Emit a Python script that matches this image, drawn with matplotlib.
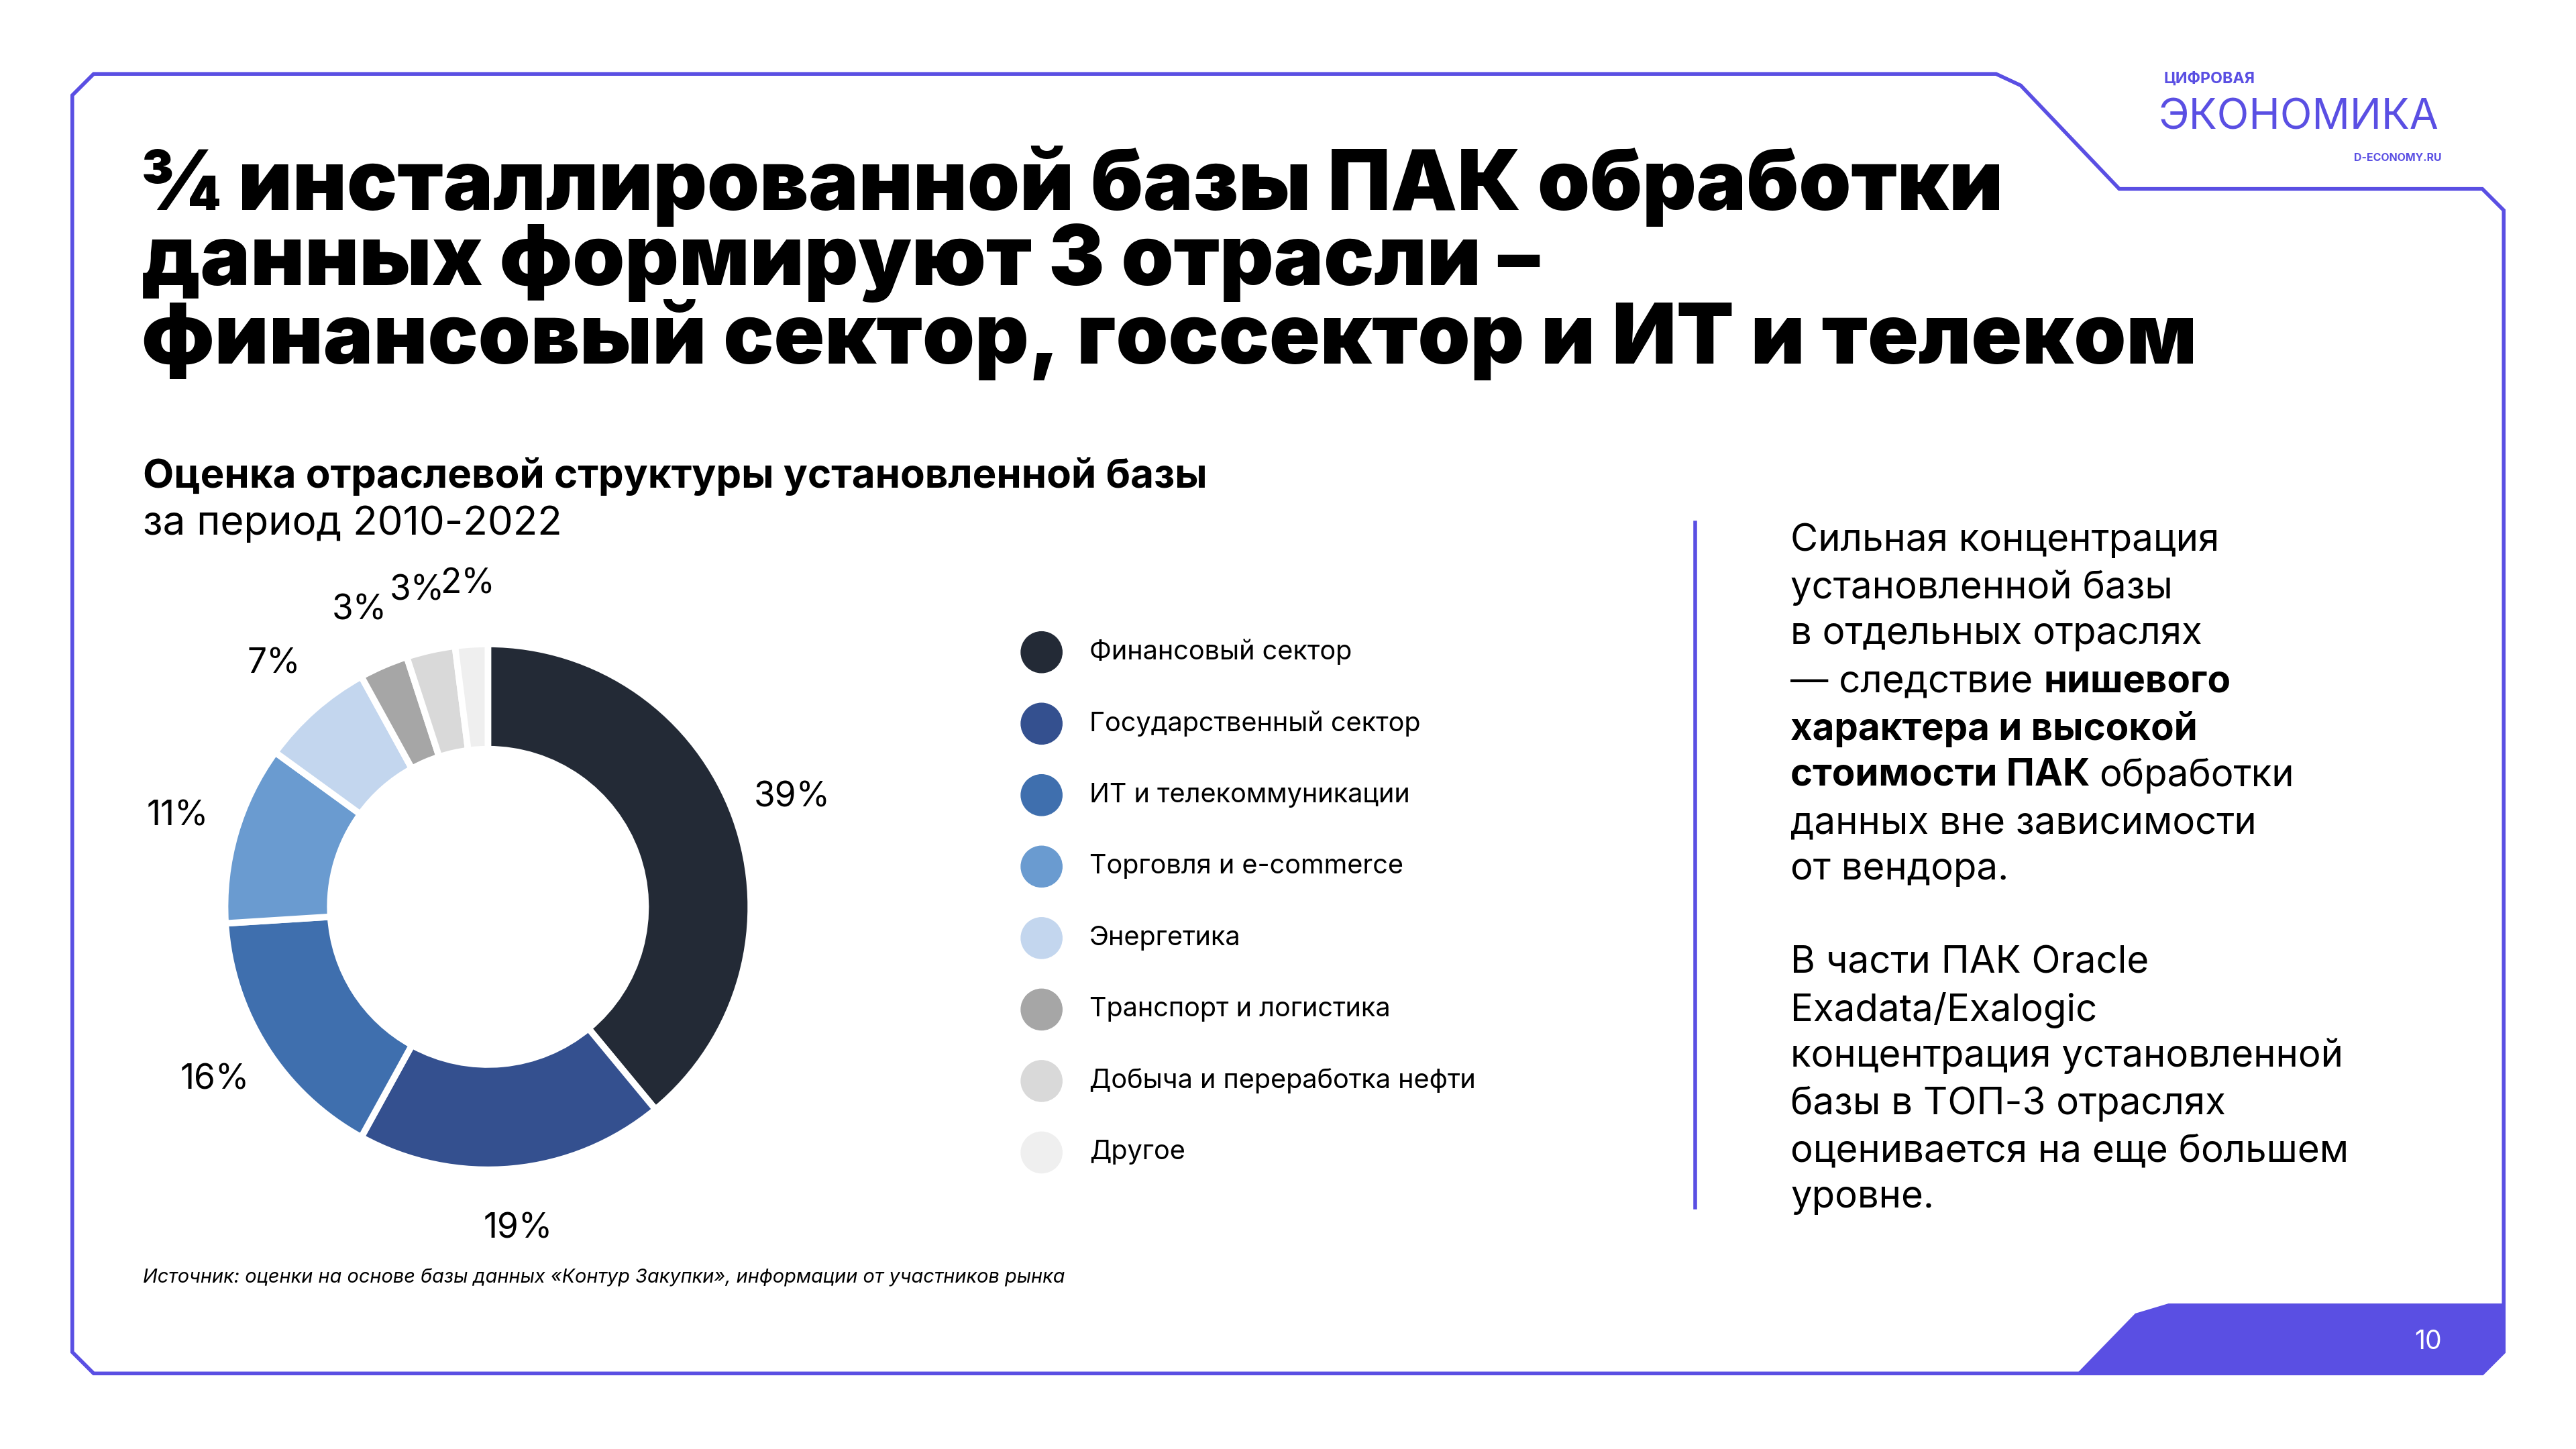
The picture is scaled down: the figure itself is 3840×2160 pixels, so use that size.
import matplotlib
matplotlib.use('Agg')
import matplotlib.pyplot as plt
from matplotlib.patches import Polygon, Circle

# Data
sectors = ['Финансовый сектор', 'Государственный сектор', 'ИТ и телекоммуникации',
           'Торговля и e-commerce', 'Энергетика', 'Транспорт и логистика',
           'Добыча и переработка нефти', 'Другое']
shares = [39, 19, 16, 11, 7, 3, 3, 2]
colors = ['#232a36', '#34508f', '#3f6fae', '#6a9bd0', '#c3d6ee', '#a6a6a6', '#d9d9d9', '#efefef']

ACCENT = '#5a4fe3'
W, H = 1568, 882
K = 1.763  # display px -> pt
plt.rcParams['font.family'] = ['Inter', 'DejaVu Sans']

fig = plt.figure(figsize=(38.4, 21.6), dpi=100)
bg = fig.add_axes([0, 0, 1, 1])
bg.set_xlim(0, W)
bg.set_ylim(H, 0)
bg.axis('off')

# Frame with notch top-right
frame = [(44, 58), (44, 823), (57, 836), (1511, 836), (1524, 823), (1524, 128),
         (1511, 115), (1290, 115), (1230, 52), (1215, 45), (57, 45)]
bg.add_patch(Polygon(frame, closed=True, fill=False, ec=ACCENT, lw=4))
bg.add_patch(Polygon([(1265, 836), (1300, 800), (1320, 794), (1524, 794), (1524, 823),
                      (1511, 836)], closed=True, fc=ACCENT, ec=ACCENT, lw=2))
bg.text(1478, 817, '10', color='white', fontsize=16 * K, ha='center', va='center')
bg.plot([1032, 1032], [318, 735], color=ACCENT, lw=4)

# Logo
bg.text(1317, 48, 'ЦИФРОВАЯ', color=ACCENT, fontsize=9.5 * K, weight='bold', va='center')
bg.text(1314, 72, 'ЭКОНОМИКА', color=ACCENT, fontsize=25.5 * K, va='center')
bg.text(1486, 96, 'D-ECONOMY.RU', color=ACCENT, fontsize=6.5 * K, weight='bold', va='center', ha='right')

# Title
bg.text(86, 160, '¾ инсталлированной базы ПАК обработки\nданных формируют 3 отрасли –\n'
        'финансовый сектор, госсектор и ИТ и телеком',
        fontsize=51 * K, weight='black', va='center', ha='left', linespacing=0.95)

bg.text(87, 290, 'Оценка отраслевой структуры установленной базы', fontsize=24.5 * K,
        weight='bold', va='center')
bg.text(87, 319, 'за период 2010-2022', fontsize=24.5 * K, va='center')

# Right text
FS = 23 * K
for s, y in [('Сильная концентрация', 329), ('установленной базы', 358), ('в отдельных отраслях', 386)]:
    bg.text(1090, y, s, fontsize=FS, va='center')
t = bg.text(1090, 415, '— следствие ', fontsize=FS, va='center')
bg.annotate('нишевого', xy=(1, 0.5), xycoords=t, fontsize=FS, va='center', weight='bold')
bg.text(1090, 444, 'характера и высокой', fontsize=FS, va='center', weight='bold')
t = bg.text(1090, 472, 'стоимости ПАК ', fontsize=FS, va='center', weight='bold')
bg.annotate('обработки', xy=(1, 0.5), xycoords=t, fontsize=FS, va='center')
for s, y in [('данных вне зависимости', 501), ('от вендора.', 529),
             ('В части ПАК Oracle', 586), ('Exadata/Exalogic', 615),
             ('концентрация установленной', 643), ('базы в ТОП-3 отраслях', 672),
             ('оценивается на еще большем', 701), ('уровне.', 729)]:
    bg.text(1090, y, s, fontsize=FS, va='center')

bg.text(87, 778, 'Источник: оценки на основе базы данных «Контур Закупки», информации от участников рынка',
        fontsize=11.8 * K, style='italic', va='center')

# Legend
for i, (name, c) in enumerate(zip(sectors, colors)):
    y = 397 + i * 43.5
    bg.add_patch(Circle((634, y), 12.5, color=c))
    bg.text(663, y, name, fontsize=16.2 * K, va='center')

# Donut
cx, cy, r = 297, 552, 160
ax = fig.add_axes([(cx - r) / W, (H - cy - r) / H, 2 * r / W, 2 * r / H])
ax.pie(shares, colors=colors, startangle=90, counterclock=False, radius=1,
       labels=[f'{v}%' for v in shares], labeldistance=1.23,
       textprops=dict(fontsize=21 * K, ha='center', va='center'),
       wedgeprops=dict(width=0.4, edgecolor='white', linewidth=7))
ax.set_xlim(-1, 1)
ax.set_ylim(-1, 1)
ax.set_aspect('equal')

fig.savefig('out.png', dpi=100)
